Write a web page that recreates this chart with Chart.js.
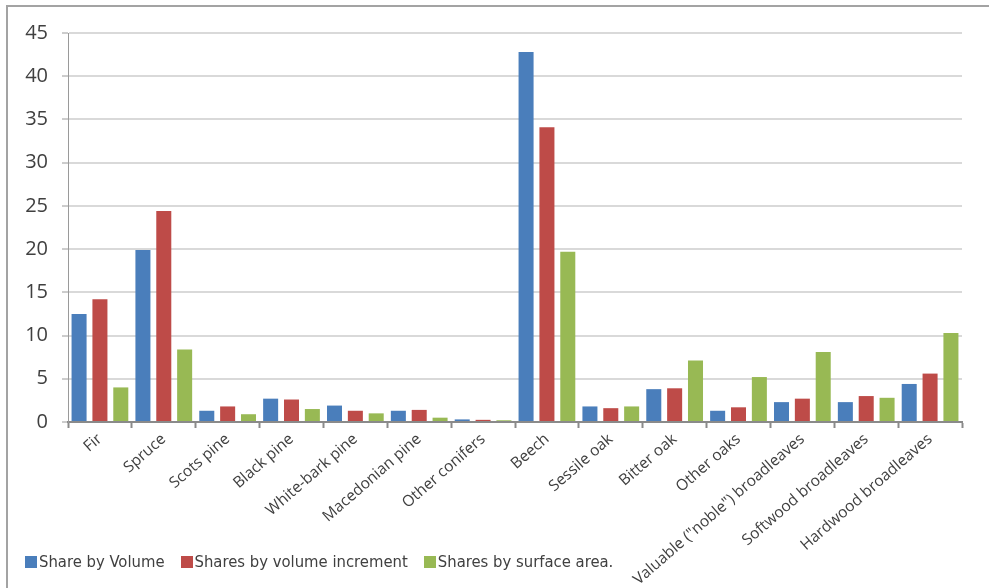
<!DOCTYPE html>
<html>
<head>
<meta charset="utf-8">
<script src="https://cdn.jsdelivr.net/npm/chart.js@4"></script>
<style>
    html, body { margin: 0; padding: 0; background: #ffffff; }
    #wrap { position: relative; width: 989px; height: 588px; overflow: hidden; }
    #frame {
        position: absolute; left: 6px; top: 5px; right: -10px; bottom: -10px;
        border-left: 2px solid #a3a3a3; border-top: 2px solid #a3a3a3;
    }
    canvas { position: absolute; left: 0; top: 0; }
    #leyenda {
        position: absolute; left: 25px; top: 552px;
        display: flex; align-items: center;
        font-family: 'DejaVu Sans Condensed', 'DejaVu Sans', sans-serif;
        font-size: 16.5px; color: #404040; white-space: nowrap;
    }
    #leyenda .item { display: flex; align-items: center; margin-right: 16px; }
    #leyenda .caja { width: 12px; height: 12px; margin-right: 2px; }
</style>
</head>
<body>
<div id="wrap">
    <div id="frame"></div>
    <canvas id="chart" width="989" height="588"></canvas>
    <div id="leyenda"></div>
</div>
<script>
// categories
const especies = [
    "Fir", "Spruce", "Scots pine", "Black pine", "White-bark pine",
    "Macedonian pine", "Other conifers", "Beech", "Sessile oak", "Bitter oak",
    "Other oaks", "Valuable (\"noble\") broadleaves", "Softwood broadleaves",
    "Hardwood broadleaves"
];

// series values (percent)
const porVolumen = [12.5, 19.9, 1.3, 2.7, 1.9, 1.3, 0.3, 42.8, 1.8, 3.8, 1.3, 2.3, 2.3, 4.4];
const porIncremento = [14.2, 24.4, 1.8, 2.6, 1.3, 1.4, 0.25, 34.1, 1.6, 3.9, 1.7, 2.7, 3.0, 5.6];
const porSuperficie = [4.0, 8.4, 0.9, 1.5, 1.0, 0.5, 0.2, 19.7, 1.8, 7.1, 5.2, 8.1, 2.8, 10.3];

const nombresSeries = [
    "Share by Volume",
    "Shares by volume increment",
    "Shares by surface area."
];

const yMax = 45;
const yPaso = 5;

const colores = ["#4a7ebb", "#be4b48", "#98b954"];

const serie = (nombre, datos, color) => ({
    label: nombre,
    data: datos,
    backgroundColor: color,
    borderWidth: 0,
    barPercentage: 0.72,
    categoryPercentage: 0.98
});

const grafica = new Chart(document.getElementById("chart"), {
    type: "bar",
    data: {
        labels: especies,
        datasets: [
            serie(nombresSeries[0], porVolumen, colores[0]),
            serie(nombresSeries[1], porIncremento, colores[1]),
            serie(nombresSeries[2], porSuperficie, colores[2])
        ]
    },
    options: {
        responsive: false,
        animation: false,
        layout: {
            padding: { left: 15, right: 27, top: 33, bottom: 0 }
        },
        plugins: {
            tooltip: { enabled: false },
            legend: { display: false }
        },
        scales: {
            x: {
                afterFit: s => { s.height = 166; },
                grid: {
                    drawOnChartArea: false,
                    drawTicks: true,
                    tickLength: 6,
                    tickColor: "#8a8a8a",
                    tickWidth: 2
                },
                border: { display: true, color: "#8a8a8a", width: 2 },
                ticks: {
                    autoSkip: false,
                    minRotation: 41,
                    maxRotation: 41,
                    padding: 2,
                    color: "#404040",
                    font: { family: "'Open Sans', sans-serif", size: 15.5 }
                }
            },
            y: {
                min: 0,
                max: yMax,
                afterFit: s => { s.width = 53; },
                grid: {
                    color: "#d9d9d9",
                    lineWidth: 2,
                    drawTicks: true,
                    tickLength: 6,
                    tickColor: "#9a9a9a",
                    tickWidth: 1
                },
                border: { display: true, color: "#9a9a9a", width: 1 },
                ticks: {
                    stepSize: yPaso,
                    padding: 14,
                    color: "#404040",
                    font: { family: "'Open Sans', sans-serif", size: 20 }
                }
            }
        }
    }
});

// ================= LEYENDA =================

let html = "";

grafica.data.datasets.forEach(d => {
    html += `
    <div class="item">
        <span class="caja" style="background:${d.backgroundColor}"></span>
        <span>${d.label}</span>
    </div>`;
});

document.getElementById("leyenda").innerHTML = html;
</script>
</body>
</html>
